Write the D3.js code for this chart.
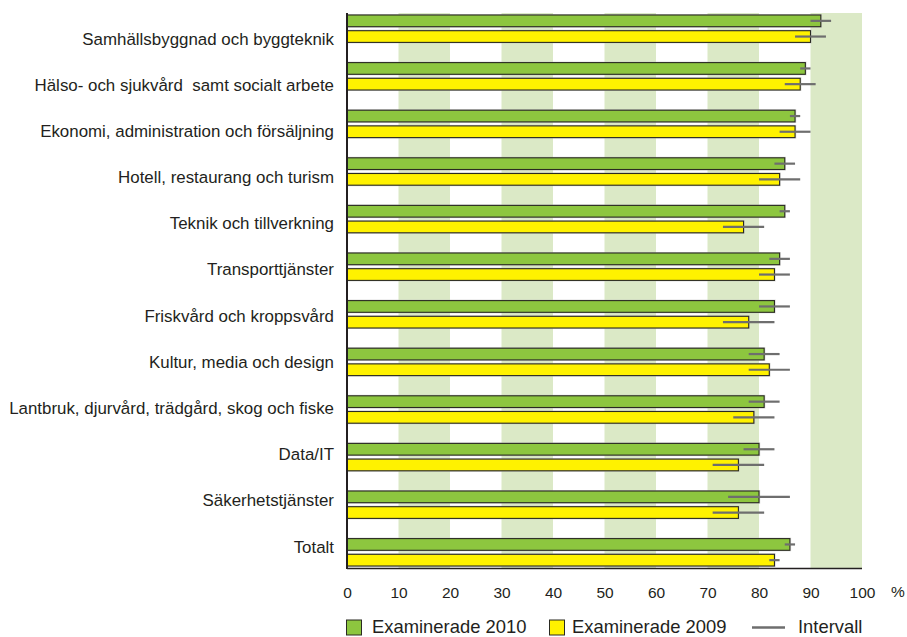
<!DOCTYPE html>
<html>
<head>
<meta charset="utf-8">
<script src="https://cdn.jsdelivr.net/npm/d3@7"></script>
<style>
  html, body { margin: 0; padding: 0; background: #fff; }
  svg { display: block; font-family: "Liberation Sans", Arial, Helvetica, sans-serif; }
  text { white-space: pre; }
</style>
</head>
<body>
<svg id="chart" width="907" height="637"></svg>
<script>
const categories = [
  "Samhällsbyggnad och byggteknik",
  "Hälso- och sjukvård  samt socialt arbete",
  "Ekonomi, administration och försäljning",
  "Hotell, restaurang och turism",
  "Teknik och tillverkning",
  "Transporttjänster",
  "Friskvård och kroppsvård",
  "Kultur, media och design",
  "Lantbruk, djurvård, trädgård, skog och fiske",
  "Data/IT",
  "Säkerhetstjänster",
  "Totalt"
];
const val2010 = [92, 89, 87, 85, 85, 84, 83, 81, 81, 80, 80, 86];
const lo2010  = [90, 88, 86, 83, 84, 82, 80, 78, 78, 77, 74, 85];
const hi2010  = [94, 90, 88, 87, 86, 86, 86, 84, 84, 83, 86, 87];
const val2009 = [90, 88, 87, 84, 77, 83, 78, 82, 79, 76, 76, 83];
const lo2009  = [87, 85, 84, 80, 73, 80, 73, 78, 75, 71, 71, 82];
const hi2009  = [93, 91, 90, 88, 81, 86, 83, 86, 83, 81, 81, 84];
const xTicks = [0, 10, 20, 30, 40, 50, 60, 70, 80, 90, 100];
const bandStarts = [10, 30, 50, 70, 90];
const seriesNames = ["Examinerade 2010", "Examinerade 2009", "Intervall"];

const C_GREEN = "#8dc63f", C_YELLOW = "#fff200", C_BAND = "#dbe9c6",
      C_TEXT = "#231f20", C_INT = "#6e6e6e", C_OUT = "#2a2a22";

const svg = d3.select("#chart");
const plotTop = 13, plotBottom = 568.5;
const x = d3.scaleLinear().domain([0, 100]).range([347, 862]);
const y = d3.scaleBand().domain(categories).range([15, 15 + 12 * 47.6]).padding(0);
const yLab = d3.scalePoint().domain(categories).range([44, 552]);
const barH = 11.7, off2 = 15.7;

// background bands
svg.append("g").selectAll("rect").data(bandStarts).join("rect")
  .attr("x", d => x(d)).attr("width", d => x(d + 10) - x(d))
  .attr("y", plotTop).attr("height", plotBottom - plotTop)
  .attr("fill", C_BAND);

const rows = categories.map((c, i) => ({c, i}));

function drawBars(vals, dy, color) {
  const g = svg.append("g");
  g.selectAll("rect.sh").data(rows).join("rect").attr("class", "sh")
    .attr("x", x(0)).attr("y", d => y(d.c) + dy - 1)
    .attr("width", d => x(vals[d.i]) - x(0) + 1.2).attr("height", barH + 2)
    .attr("fill", "#bdbdbd").attr("opacity", 0.6);
  g.selectAll("rect.bar").data(rows).join("rect").attr("class", "bar")
    .attr("x", x(0)).attr("y", d => y(d.c) + dy)
    .attr("width", d => x(vals[d.i]) - x(0)).attr("height", barH)
    .attr("fill", color).attr("stroke", C_OUT).attr("stroke-width", 1.1);
}
drawBars(val2010, 0, C_GREEN);
drawBars(val2009, off2, C_YELLOW);

function drawInt(lo, hi, dy) {
  svg.append("g").selectAll("line").data(rows).join("line")
    .attr("x1", d => x(lo[d.i])).attr("x2", d => x(hi[d.i]))
    .attr("y1", d => y(d.c) + dy + barH / 2).attr("y2", d => y(d.c) + dy + barH / 2)
    .attr("stroke", C_INT).attr("stroke-width", 2.2);
}
drawInt(lo2010, hi2010, 0);
drawInt(lo2009, hi2009, off2);

// axes lines
svg.append("line").attr("x1", x(0)).attr("x2", x(100)).attr("y1", plotBottom).attr("y2", plotBottom)
  .attr("stroke", C_TEXT).attr("stroke-width", 1.3);
svg.append("line").attr("x1", x(0)).attr("x2", x(0)).attr("y1", plotTop).attr("y2", plotBottom + 0.6)
  .attr("stroke", C_TEXT).attr("stroke-width", 2);

// x axis labels
const xAxis = svg.append("g").attr("transform", `translate(0,${plotBottom})`)
  .call(d3.axisBottom(x).tickValues(xTicks).tickSize(0).tickPadding(18).tickFormat(d3.format("d")));
xAxis.select(".domain").remove();
xAxis.selectAll("text").attr("font-size", 15.5).attr("fill", C_TEXT)
  .attr("font-family", "'Liberation Sans', Arial, sans-serif");
svg.append("text").attr("x", 898).attr("y", 597).attr("text-anchor", "middle")
  .attr("font-size", 15.5).attr("fill", C_TEXT).text("%");

// category labels
const yAxis = svg.append("g").attr("transform", "translate(334,0)")
  .call(d3.axisLeft(yLab).tickSize(0).tickPadding(0));
yAxis.select(".domain").remove();
yAxis.selectAll("text").attr("dy", 0).attr("font-size", 16.9).attr("fill", C_TEXT)
  .attr("font-family", "'Liberation Sans', Arial, sans-serif")
  .attr("xml:space", "preserve");

// legend
const lg = svg.append("g");
const legY = 620, legFont = 18.4, legBase = 633;
lg.append("rect").attr("x", 346.5).attr("y", legY).attr("width", 15).attr("height", 15)
  .attr("fill", C_GREEN).attr("stroke", C_OUT).attr("stroke-width", 1);
lg.append("text").attr("x", 372).attr("y", legBase).attr("font-size", legFont).attr("fill", C_TEXT).text(seriesNames[0]);
lg.append("rect").attr("x", 549.5).attr("y", legY).attr("width", 15).attr("height", 15)
  .attr("fill", C_YELLOW).attr("stroke", C_OUT).attr("stroke-width", 1);
lg.append("text").attr("x", 572).attr("y", legBase).attr("font-size", legFont).attr("fill", C_TEXT).text(seriesNames[1]);
lg.append("line").attr("x1", 752).attr("x2", 785).attr("y1", 627.5).attr("y2", 627.5)
  .attr("stroke", C_INT).attr("stroke-width", 2.4);
lg.append("text").attr("x", 798).attr("y", legBase).attr("font-size", legFont).attr("fill", C_TEXT).text(seriesNames[2]);
</script>
</body>
</html>
